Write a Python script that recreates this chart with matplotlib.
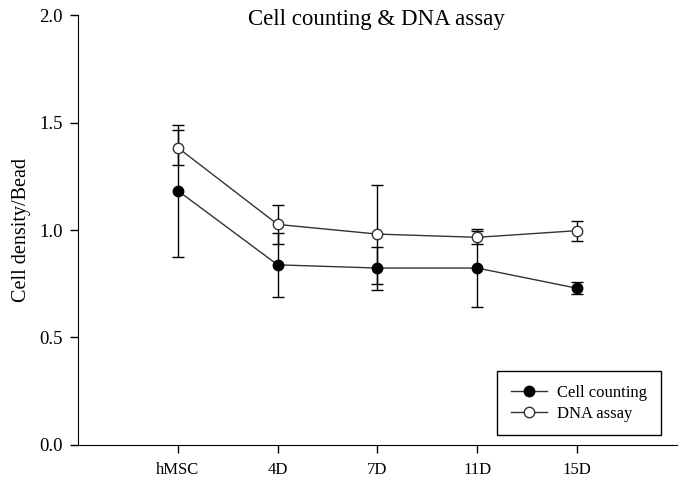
import numpy as np
import matplotlib.pyplot as plt

plt.rcParams['font.family'] = ['Liberation Serif', 'DejaVu Serif']

days = ['hMSC', '4D', '7D', '11D', '15D']
cell_mean = [1.183, 0.838, 0.823, 0.823, 0.729]
cell_err = [0.307, 0.150, 0.100, 0.180, 0.027]
dna_mean = [1.383, 1.026, 0.981, 0.966, 0.997]
dna_err = [0.080, 0.090, 0.230, 0.030, 0.047]

x = np.arange(1, len(days) + 1)

fig = plt.figure(figsize=(6.83, 4.82), dpi=100)
ax = fig.add_axes([0.1142, 0.0768, 0.877, 0.892])

ax.errorbar(x, cell_mean, yerr=cell_err, fmt='none', ecolor='black', elinewidth=1, capsize=4.3, capthick=1, zorder=2)
ax.errorbar(x, dna_mean, yerr=dna_err, fmt='none', ecolor='black', elinewidth=1, capsize=4.3, capthick=1, zorder=2)
ax.plot(x, cell_mean, color='#333333', lw=1, marker='o', ms=7.5, mfc='black', mec='black', label='Cell counting', zorder=3)
ax.plot(x, dna_mean, color='#333333', lw=1, marker='o', ms=7.5, mfc='white', mec='#333333', label='DNA assay', zorder=3)

ax.set_xlim(0, 6)
ax.set_ylim(0, 2.0)
ax.set_xticks(x)
ax.set_xticklabels(days)
ax.set_yticks([0.0, 0.5, 1.0, 1.5, 2.0])
ax.set_yticklabels(['0.0', '0.5', '1.0', '1.5', '2.0'])
ax.tick_params(direction='out', length=6, width=1, labelsize=12, pad=6)
ax.tick_params(axis='y', labelsize=13.5, pad=5)
for s in ['top', 'right']:
    ax.spines[s].set_visible(False)
ax.set_ylabel('Cell density/Bead', fontsize=14.5, labelpad=6)

# title sits just below the top edge, overlapping the plot area
fig.text(0.551, 1 - 25 / 482, 'Cell counting & DNA assay', fontsize=16.5, ha='center', va='baseline')

leg = ax.legend(loc='lower right', bbox_to_anchor=(0.973, 0.023), borderaxespad=0, fontsize=12,
                fancybox=False, edgecolor='black', framealpha=1, borderpad=0.8, handlelength=2.2,
                handletextpad=0.6, labelspacing=0.3)
leg.get_frame().set_linewidth(1)

fig.savefig('out.png', dpi=100)
